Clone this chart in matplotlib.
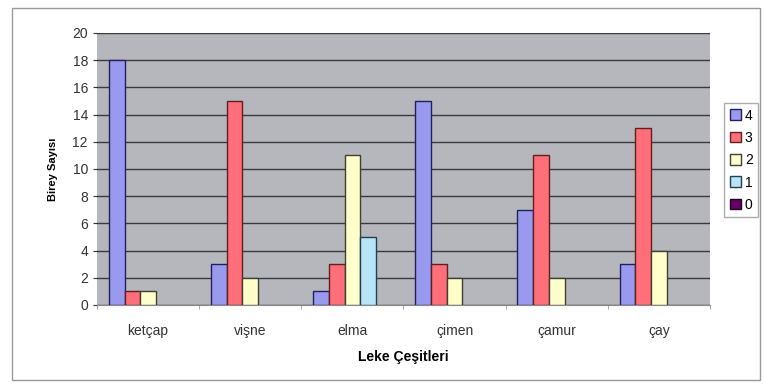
import numpy as np
import matplotlib.pyplot as plt
from matplotlib.patches import Rectangle

plt.rcParams['font.family'] = ['Liberation Sans', 'DejaVu Sans']

# Data
categories = ['ketçap', 'vişne', 'elma', 'çimen', 'çamur', 'çay']
series_names = ['4', '3', '2', '1', '0']
s4 = [18, 3, 1, 15, 7, 3]
s3 = [1, 15, 3, 3, 11, 13]
s2 = [1, 2, 11, 2, 2, 4]
s1 = [0, 0, 5, 0, 0, 0]
s0 = [0, 0, 0, 0, 0, 0]
yticks = list(range(0, 21, 2))

series = [s4, s3, s2, s1, s0]
colors = ['#9999ee', '#ff6f7a', '#ffffcc', '#b8e4f8', '#660066']
edges = ['#202060', '#602020', '#404030', '#204050', '#200020']

fig = plt.figure(figsize=(7.65, 3.84), dpi=100)
fig.patch.set_facecolor('white')
fig.patches.append(Rectangle((12 / 765, 4 / 384), 748 / 765, 372 / 384,
                             transform=fig.transFigure, fill=False,
                             edgecolor='#999999', linewidth=1))

ax = fig.add_axes([97 / 765, 79 / 384, 613 / 765, 272 / 384])
ax.set_facecolor('#b6b7bd')

x = np.arange(len(categories))
w = 1 / 6.5
for i, (vals, c, e) in enumerate(zip(series, colors, edges)):
    # zero-height bars are not drawn in the original, so hide their outline
    lw = [1 if v > 0 else 0 for v in vals]
    ax.bar(x + (i - 2) * w, vals, width=w, color=c, edgecolor=e,
           linewidth=lw, label=series_names[i], zorder=3)

ax.set_xlim(-0.5, len(categories) - 0.5)
ax.set_ylim(0, 20)
ax.set_yticks(yticks)
ax.grid(axis='y', color='#3a3a3a', linewidth=1, zorder=1)
ax.set_xticks(x)
ax.set_xticklabels(categories, fontsize=10, color='#333333')
ax.tick_params(axis='x', length=0, pad=14)
ax.set_xticks(np.arange(-0.5, len(categories)), minor=True)
ax.tick_params(axis='x', which='minor', length=3, color='#999999')
ax.tick_params(axis='y', labelsize=10, colors='#333333', length=3)
for s in ax.spines.values():
    s.set_visible(False)
ax.spines['bottom'].set_visible(True)
ax.spines['bottom'].set_color('#888888')

ax.set_ylabel('Birey Sayısı', fontsize=8, fontweight='bold', labelpad=10)
ax.set_xlabel('Leke Çeşitleri', fontsize=10, fontweight='bold', labelpad=8)

leg = fig.legend(loc='upper left', bbox_to_anchor=(724 / 765, 1 - 103 / 384),
                 fontsize=10, frameon=True, fancybox=False, edgecolor='#999999',
                 handlelength=0.8, handleheight=0.8, handletextpad=0.3,
                 borderpad=0.4, labelspacing=0.6, borderaxespad=0)
for h, e in zip(leg.legend_handles, edges):
    h.set_linewidth(1)
    h.set_edgecolor(e)

fig.savefig('out.png', dpi=100)
